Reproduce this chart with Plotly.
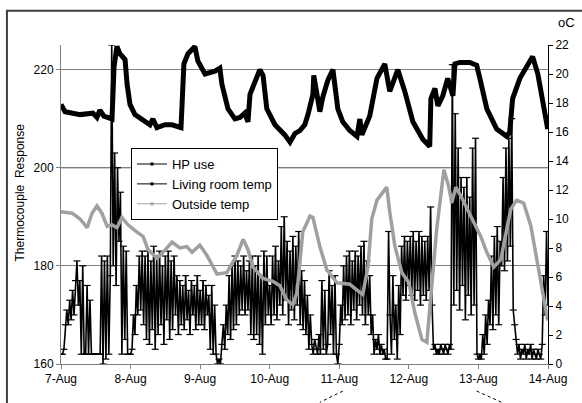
import pandas as pd
import plotly.graph_objects as go

START = pd.Timestamp("2007-08-07 00:00")

# ---------------- data (hours since 7-Aug 00:00) ----------------
# HP use (thermocouple response), half-hourly readings, left axis
hp_day1 = [162, 162, 163, 168, 171, 168, 173, 169, 175, 170, 177, 181, 172, 177, 162, 180,
           162, 162, 176, 162, 173, 162, 162, 162, 162, 162, 162, 162, 182, 160, 181, 161,
           182, 162, 178, 225, 180, 203, 176, 200, 185, 195, 162, 184, 165, 183, 162, 162]
hp_day2 = [162, 163, 170, 166, 176, 170, 182, 171, 183, 168, 182, 165, 183, 164, 181, 167,
           184, 163, 182, 166, 183, 168, 180, 164, 182, 169, 183, 165, 181, 167, 182, 170,
           178, 166, 177, 168, 176, 167, 178, 169, 175, 166, 177, 170, 176, 167, 178, 168]
hp_day3 = [175, 168, 177, 167, 176, 170, 174, 163, 176, 162, 172, 162, 160, 161, 160, 164,
           168, 163, 172, 166, 178, 165, 180, 167, 182, 168, 181, 170, 180, 171, 182, 170,
           179, 171, 181, 166, 182, 165, 180, 166, 182, 164, 178, 162, 183, 168, 182, 170]
hp_day4 = [176, 168, 182, 170, 184, 169, 181, 172, 188, 170, 190, 173, 185, 168, 183, 171,
           186, 169, 184, 172, 187, 168, 179, 167, 177, 166, 174, 163, 170, 164, 162, 165,
           163, 162, 166, 162, 177, 163, 175, 162, 164, 179, 166, 176, 162, 178, 162, 160]
hp_day5 = [164, 172, 168, 180, 169, 182, 170, 183, 168, 181, 171, 183, 169, 182, 172, 184,
           170, 185, 168, 181, 170, 178, 166, 170, 162, 165, 163, 166, 162, 164, 162, 163,
           161, 161, 187, 170, 162, 178, 165, 172, 161, 176, 166, 184, 174, 186, 173, 185]
hp_day6 = [176, 186, 174, 187, 173, 185, 175, 187, 172, 186, 174, 185, 173, 186, 175, 192,
           172, 163, 164, 162, 163, 162, 164, 163, 162, 164, 163, 162, 164, 163, 221, 172,
           211, 175, 204, 171, 198, 176, 196, 169, 198, 174, 194, 170, 204, 172, 206, 162]
hp_day7 = [161, 162, 161, 166, 162, 170, 164, 173, 168, 182, 167, 186, 170, 188, 168, 185,
           180, 198, 179, 204, 181, 206, 184, 210, 171, 168, 165, 162, 164, 161, 163, 162,
           164, 161, 163, 162, 164, 161, 163, 162, 161, 163, 162, 161, 164, 178, 170, 187, 172]
hp_use = hp_day1 + hp_day2 + hp_day3 + hp_day4 + hp_day5 + hp_day6 + hp_day7
hp_hours = [i * 0.5 for i in range(len(hp_use))]

# Living room temperature (oC), right axis
lr_hours = [0, 1.4, 6.6, 11, 12.4, 13.4, 14.8, 17.6, 18.3, 19.3, 20.3, 22.1, 22.8, 23.8,
            25.5, 29, 30.7, 31.7, 33.1, 35.9, 38.3, 41.4, 42.4, 43.8, 46.2, 47.2, 49.7,
            53.1, 54.8, 55.5, 57.6, 60, 61.7, 63.4, 64.5, 65.2, 66.9, 68.6, 69.7, 71,
            73.8, 77.2, 79, 80.7, 82.4, 84.1, 85.2, 85.9, 86.9, 87.2, 88.3, 89.3, 90.3,
            92.1, 93.8, 95.5, 97.2, 99.6, 102.1, 103.1, 103.8, 106.5, 109, 111.7, 113.4,
            116.2, 118.6, 121.4, 124.8, 127.2, 127.6, 129, 130, 131.7, 133.4, 135.2,
            135.9, 137.6, 141, 143.4, 144.5, 146.9, 150.3, 153.8, 154.8, 155.8, 158.3,
            161.7, 162.7, 164.5, 166.2, 167.9]
lr_temp = [17.9, 17.4, 17.2, 17.3, 17.0, 17.5, 17.1, 16.9, 20.5, 21.9, 21.4, 21.0, 19.3, 17.9,
           17.2, 16.7, 16.5, 16.9, 16.3, 16.5, 16.5, 16.3, 20.7, 21.4, 21.9, 20.9, 20.0,
           20.2, 20.4, 19.3, 17.6, 16.9, 17.0, 17.3, 16.7, 18.6, 19.5, 20.3, 19.9, 17.6,
           16.5, 15.8, 15.3, 15.9, 16.1, 16.5, 17.2, 17.7, 18.6, 19.9, 18.3, 17.4, 18.4,
           19.6, 20.3, 17.6, 16.7, 16.1, 15.7, 16.9, 15.8, 17.1, 19.7, 20.7, 18.8,
           20.3, 18.8, 16.7, 15.5, 15.0, 18.3, 19.0, 17.8, 18.5, 19.7, 18.5,
           20.7, 20.8, 20.8, 20.6, 19.7, 17.6, 16.2, 15.7, 16.0, 18.3, 19.7,
           20.8, 21.2, 20.0, 18.0, 16.2]

# Outside temperature (oC), right axis
out_hours = [0, 3.8, 6.6, 9, 10.7, 12.4, 14.1, 15.9, 17.6, 19.3, 21, 23.1, 26.2, 28.3, 30,
             33.1, 35.2, 38.3, 41, 43.4, 45.2, 47.9, 50.3, 53.8, 57.2, 60.7, 62.8, 64.5,
             66.2, 69.7, 73.1, 75.5, 77.9, 80, 81.4, 82.4, 83.4, 85.9, 86.9, 89.3, 91.7,
             95.2, 99.6, 102.1, 104.1, 105.9, 107.2, 109, 112.4, 113.4, 115.2, 117.6, 120,
             122.1, 124.5, 126.2, 127.2, 128.3, 129.6, 132.1, 133.8, 134.8, 136.2, 137.9,
             141.4, 144.8, 146.9, 149.3, 151.7, 153.4, 155.2, 157.2, 159.6, 162.1, 164.1,
             166.5, 167.9]
out_temp = [10.5, 10.4, 10.0, 9.4, 10.4, 10.9, 10.4, 9.5, 9.6, 9.4, 10.1, 9.6, 9.1, 8.8, 7.9,
            7.3, 7.7, 8.4, 8.0, 8.1, 7.7, 8.2, 7.5, 6.2, 6.3, 7.5, 8.6, 7.9,
            6.7, 5.9, 5.7, 5.4, 4.4, 4.1, 4.9, 7.2, 9.1, 10.2, 10.1, 8.1, 6.5,
            5.6, 5.5, 5.1, 4.8, 6.7, 10.0, 11.3, 12.2, 10.5, 8.1, 6.3, 5.6,
            3.5, 1.7, 1.5, 3.7, 6.7, 9.3, 13.4, 12.2, 11.1, 12.2, 11.6,
            10.2, 8.8, 7.7, 6.7, 7.2, 8.8, 10.7, 11.3, 11.1, 9.5, 7.2,
            4.4, 3.0]

x_ticks = ["7-Aug", "8-Aug", "9-Aug", "10-Aug", "11-Aug", "12-Aug", "13-Aug", "14-Aug"]
left_ticks = [160, 180, 200, 220]
right_ticks = list(range(0, 23, 2))


def to_time(hours):
    return START + pd.to_timedelta(hours, unit="h")


FONT = "Arial, Liberation Sans, sans-serif"
GRAY = "#a0a0a0"

fig = go.Figure()

fig.add_trace(go.Scatter(
    x=to_time(hp_hours), y=hp_use, name="HP use", mode="lines+markers",
    line=dict(color="black", width=1.6),
    marker=dict(symbol="line-ew", size=5, line=dict(color="black", width=1.2)),
    showlegend=False))
fig.add_trace(go.Scatter(
    x=to_time(lr_hours), y=lr_temp, name="Living room temp", mode="lines",
    line=dict(color="black", width=5), yaxis="y2", showlegend=False))
fig.add_trace(go.Scatter(
    x=to_time(out_hours), y=out_temp, name="Outside temp", mode="lines",
    line=dict(color=GRAY, width=3.5), yaxis="y2", showlegend=False))

# legend entries (thin line with small marker, as in the original)
for name, col in [("HP use", "black"), ("Living room temp", "black"), ("Outside temp", GRAY)]:
    fig.add_trace(go.Scatter(x=[None], y=[None], name=name, mode="lines+markers",
                             line=dict(color=col, width=1),
                             marker=dict(symbol="square", size=3, color=col)))

tickvals = [START + pd.Timedelta(days=i) for i in range(len(x_ticks))]

fig.update_layout(
    width=582, height=403,
    margin=dict(l=61, r=34, t=45, b=39),
    paper_bgcolor="white", plot_bgcolor="white",
    font=dict(family=FONT, size=12, color="black"),
    xaxis=dict(type="date", range=[tickvals[0], tickvals[-1]],
               tickvals=tickvals, ticktext=x_ticks,
               showgrid=False, zeroline=False,
               showline=True, linecolor="#808080", linewidth=1,
               ticks="outside", ticklen=4, tickcolor="#808080"),
    yaxis=dict(range=[160, 225], tickvals=left_ticks,
               showgrid=True, gridcolor="#808080", gridwidth=1, zeroline=False,
               showline=True, linecolor="#808080", linewidth=1,
               ticks="outside", ticklen=4, tickcolor="#808080"),
    yaxis2=dict(range=[0, 22], tickvals=right_ticks, overlaying="y", side="right",
                showgrid=False, zeroline=False,
                showline=True, linecolor="black", linewidth=1,
                ticks="outside", ticklen=4, tickcolor="black"),
    legend=dict(x=0.1437, y=0.677, xanchor="left", yanchor="top",
                bgcolor="white", bordercolor="black", borderwidth=1,
                font=dict(family=FONT, size=13), tracegroupgap=0),
    showlegend=True,
    annotations=[
        dict(text="oC", x=1.039, y=1.069, xref="paper", yref="paper",
             showarrow=False, xanchor="center", yanchor="middle",
             font=dict(family=FONT, size=13)),
        dict(text="Thermocouple  Response", x=-0.084, y=0.538, xref="paper", yref="paper",
             showarrow=False, xanchor="center", yanchor="middle", textangle=-90,
             font=dict(family=FONT, size=12)),
    ],
    shapes=[
        dict(type="line", xref="paper", yref="y", x0=0, x1=1, y0=200, y1=200,
             line=dict(color="black", width=1), layer="below"),
        dict(type="rect", xref="paper", yref="paper", x0=-0.111, x1=1.3, y0=-0.3, y1=1.107,
             line=dict(color="#404040", width=2), layer="below"),
        dict(type="line", xref="x", yref="paper",
             x0=to_time(97.2), x1=to_time(89.3), y0=-0.085, y1=-0.12,
             line=dict(color="black", width=1, dash="dot")),
        dict(type="line", xref="x", yref="paper",
             x0=to_time(143.4), x1=to_time(152.0), y0=-0.085, y1=-0.12,
             line=dict(color="black", width=1, dash="dot")),
    ],
)

fig.write_html("out.html")
